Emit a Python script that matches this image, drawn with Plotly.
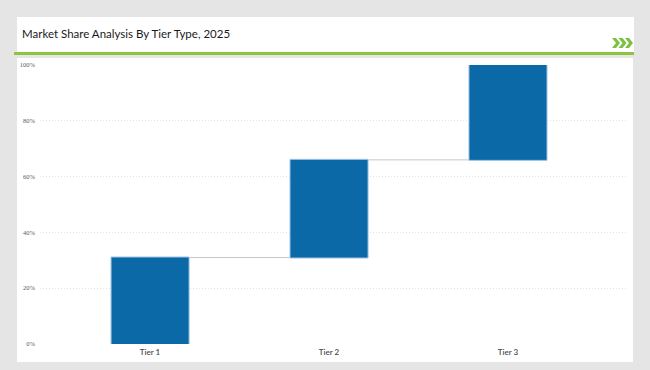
import plotly.graph_objects as go

categories = ["Tier 1", "Tier 2", "Tier 3"]
shares = [31, 35, 34]
tick_vals = [0, 20, 40, 60, 80, 100]
tick_text = ["0%", "20%", "40%", "60%", "80%", "100%"]
title = "Market Share Analysis By Tier Type, 2025"

W, H = 650, 370
L, R, T, B = 40, 627, 65, 344  # plot area in pixels


def px(x):
    return (x - L) / (R - L)


def py(y):
    return (B - y) / (B - T)


fig = go.Figure(go.Waterfall(
    x=categories,
    y=shares,
    measure=["relative"] * len(shares),
    increasing=dict(marker=dict(color="#0c69a8", line=dict(color="#9cc3e4", width=1))),
    connector=dict(line=dict(color="#c8c8c8", width=1)),
    width=0.436,
    hoverinfo="x+y",
))

shapes = [
    # header box
    dict(type="rect", xref="paper", yref="paper", x0=px(17), x1=px(634), y0=py(52), y1=py(17),
         fillcolor="white", line=dict(width=0), layer="below"),
    # green rule
    dict(type="rect", xref="paper", yref="paper", x0=px(14), x1=px(634), y0=py(55), y1=py(52),
         fillcolor="#8cc63f", line=dict(width=0), layer="below"),
    # chart panel
    dict(type="rect", xref="paper", yref="paper", x0=px(17), x1=px(633), y0=py(362), y1=py(58),
         fillcolor="white", line=dict(width=0), layer="below"),
]
# chevrons
for i in range(3):
    x0 = 612 + i * 6.5
    path = (f"M {px(x0)} {py(38)} L {px(x0+4)} {py(38)} L {px(x0+8)} {py(43)} "
            f"L {px(x0+4)} {py(48)} L {px(x0)} {py(48)} L {px(x0+4)} {py(43)} Z")
    shapes.append(dict(type="path", xref="paper", yref="paper", path=path,
                       fillcolor="#7dc142", line=dict(width=0)))

fig.update_layout(
    width=W, height=H,
    margin=dict(l=L, r=W - R, t=T, b=H - B, pad=0),
    paper_bgcolor="#e5e5e5",
    plot_bgcolor="white",
    showlegend=False,
    shapes=shapes,
    annotations=[dict(text=title, xref="paper", yref="paper", x=px(20), y=py(33),
                      xanchor="left", yanchor="middle", showarrow=False,
                      font=dict(family="Lato, Open Sans, sans-serif", size=11.5, color="#1a1a1a"))],
    xaxis=dict(range=[-0.615, 2.665], showgrid=False, zeroline=False, showline=False,
               ticks="", tickfont=dict(family="Lato, Open Sans, sans-serif", size=8, color="#4a4a4a",
                                       weight=600),
               ticklabelstandoff=2),
    yaxis=dict(range=[0, 100], tickvals=tick_vals, ticktext=tick_text, showgrid=True,
               gridcolor="#e2e2e2", griddash="1px,2px", gridwidth=1, zeroline=False, showline=False,
               ticks="", tickfont=dict(family="Liberation Serif, serif", size=6.5, color="#5a5a5a"),
               ticklabelstandoff=4),
)

fig.write_html("out.html", config={"displayModeBar": False},
               post_script="document.body.style.margin='0';document.body.style.overflow='hidden';")
